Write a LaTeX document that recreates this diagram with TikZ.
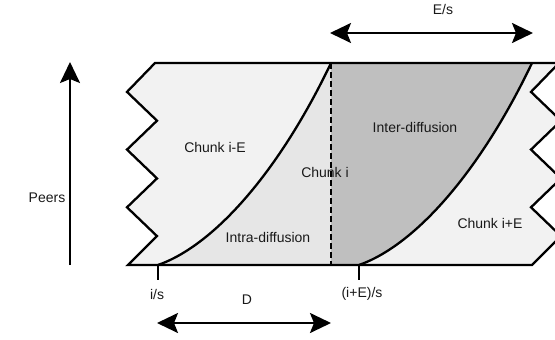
\documentclass[tikz,border=0pt]{standalone}
\usepackage{fontspec}
\setmainfont{Liberation Sans}
\usetikzlibrary{arrows.meta}
\definecolor{lightfill}{HTML}{F2F2F2}
\definecolor{intrafill}{HTML}{E6E6E6}
\definecolor{interfill}{HTML}{BFBFBF}
\tikzset{
  outline/.style={line width=2.3pt, line join=miter},
  bigarrow/.style={line width=2.3pt, {Stealth[length=21pt,width=20pt,inset=4pt]}-{Stealth[length=21pt,width=20pt,inset=4pt]}},
  uparrow/.style={line width=2.3pt, -{Stealth[length=21pt,width=20pt,inset=4pt]}},
  lbl/.style={font=\fontsize{14}{16}\selectfont, text=black!90, inner sep=0pt},
}
\begin{document}
\begin{tikzpicture}[x=1pt,y=-1pt]
\useasboundingbox (0,0) rectangle (555,340);
\begin{scope}
\clip (0,0) rectangle (555,340);
% whole band
\fill[lightfill] (155,63) -- (559,63) -- (531,91.9) -- (561,120.7) -- (531,149.6) -- (561,178.4) -- (531,207.3) -- (561,236.1) -- (532,265)
  -- (128,265) -- (157,236.1) -- (127,207.3) -- (157,178.4) -- (127,149.6) -- (157,120.7) -- (127,91.9) -- cycle;
% intra region
\fill[intrafill] (158,265) .. controls (215,245) and (280,170) .. (331,63) -- (331,265) -- cycle;
% inter region
\fill[interfill] (331,63) -- (532,63) .. controls (481,170) and (416,245) .. (359,265) -- (331,265) -- cycle;
% outline
\draw[outline] (155,63) -- (559,63) -- (531,91.9) -- (561,120.7) -- (531,149.6) -- (561,178.4) -- (531,207.3) -- (561,236.1) -- (532,265)
  -- (128,265) -- (157,236.1) -- (127,207.3) -- (157,178.4) -- (127,149.6) -- (157,120.7) -- (127,91.9) -- cycle;
\end{scope}
% curves
\draw[outline] (158,265) .. controls (215,245) and (280,170) .. (331,63);
\draw[outline] (359,265) .. controls (416,245) and (481,170) .. (532,63);
% dashed divider
\coordinate (dtop) at (331,63);
\coordinate (dbot) at (331,265);
\draw[line width=2.6pt, dash pattern=on 6pt off 3pt] (dtop) -- (dbot);
% ticks
\coordinate (t1a) at (158,265); \coordinate (t1b) at (158,280);
\coordinate (t2a) at (359,265); \coordinate (t2b) at (359,280);
\draw[line width=2.3pt] (t1a) -- (t1b);
\draw[line width=2.3pt] (t2a) -- (t2b);
% arrows
\coordinate (pbot) at (70,265); \coordinate (ptop) at (70,62);
\draw[uparrow] (pbot) -- (ptop);
\coordinate (dl) at (157,323); \coordinate (dr) at (331,323);
\draw[bigarrow] (dl) -- (dr);
\coordinate (el) at (330,33); \coordinate (er) at (533,33);
\draw[bigarrow] (el) -- (er);
% labels
\node[lbl] (peers) at (47,198) {Peers};
\node[lbl] (es) at (443,9) {E/s};
\node[lbl] (d) at (247,300) {D};
\node[lbl] (is) at (157,294) {i/s};
\node[lbl] (ies) at (362,294) {(i+E)/s};
\node[lbl] (cie) at (215,147) {Chunk i-E};
\node[lbl] (ci) at (325,172) {Chunk i};
\node[lbl] (intra) at (268,237) {Intra-diffusion};
\node[lbl] (inter) at (415,127) {Inter-diffusion};
\node[lbl] (cipe) at (490,223) {Chunk i+E};
\end{tikzpicture}
\end{document}
